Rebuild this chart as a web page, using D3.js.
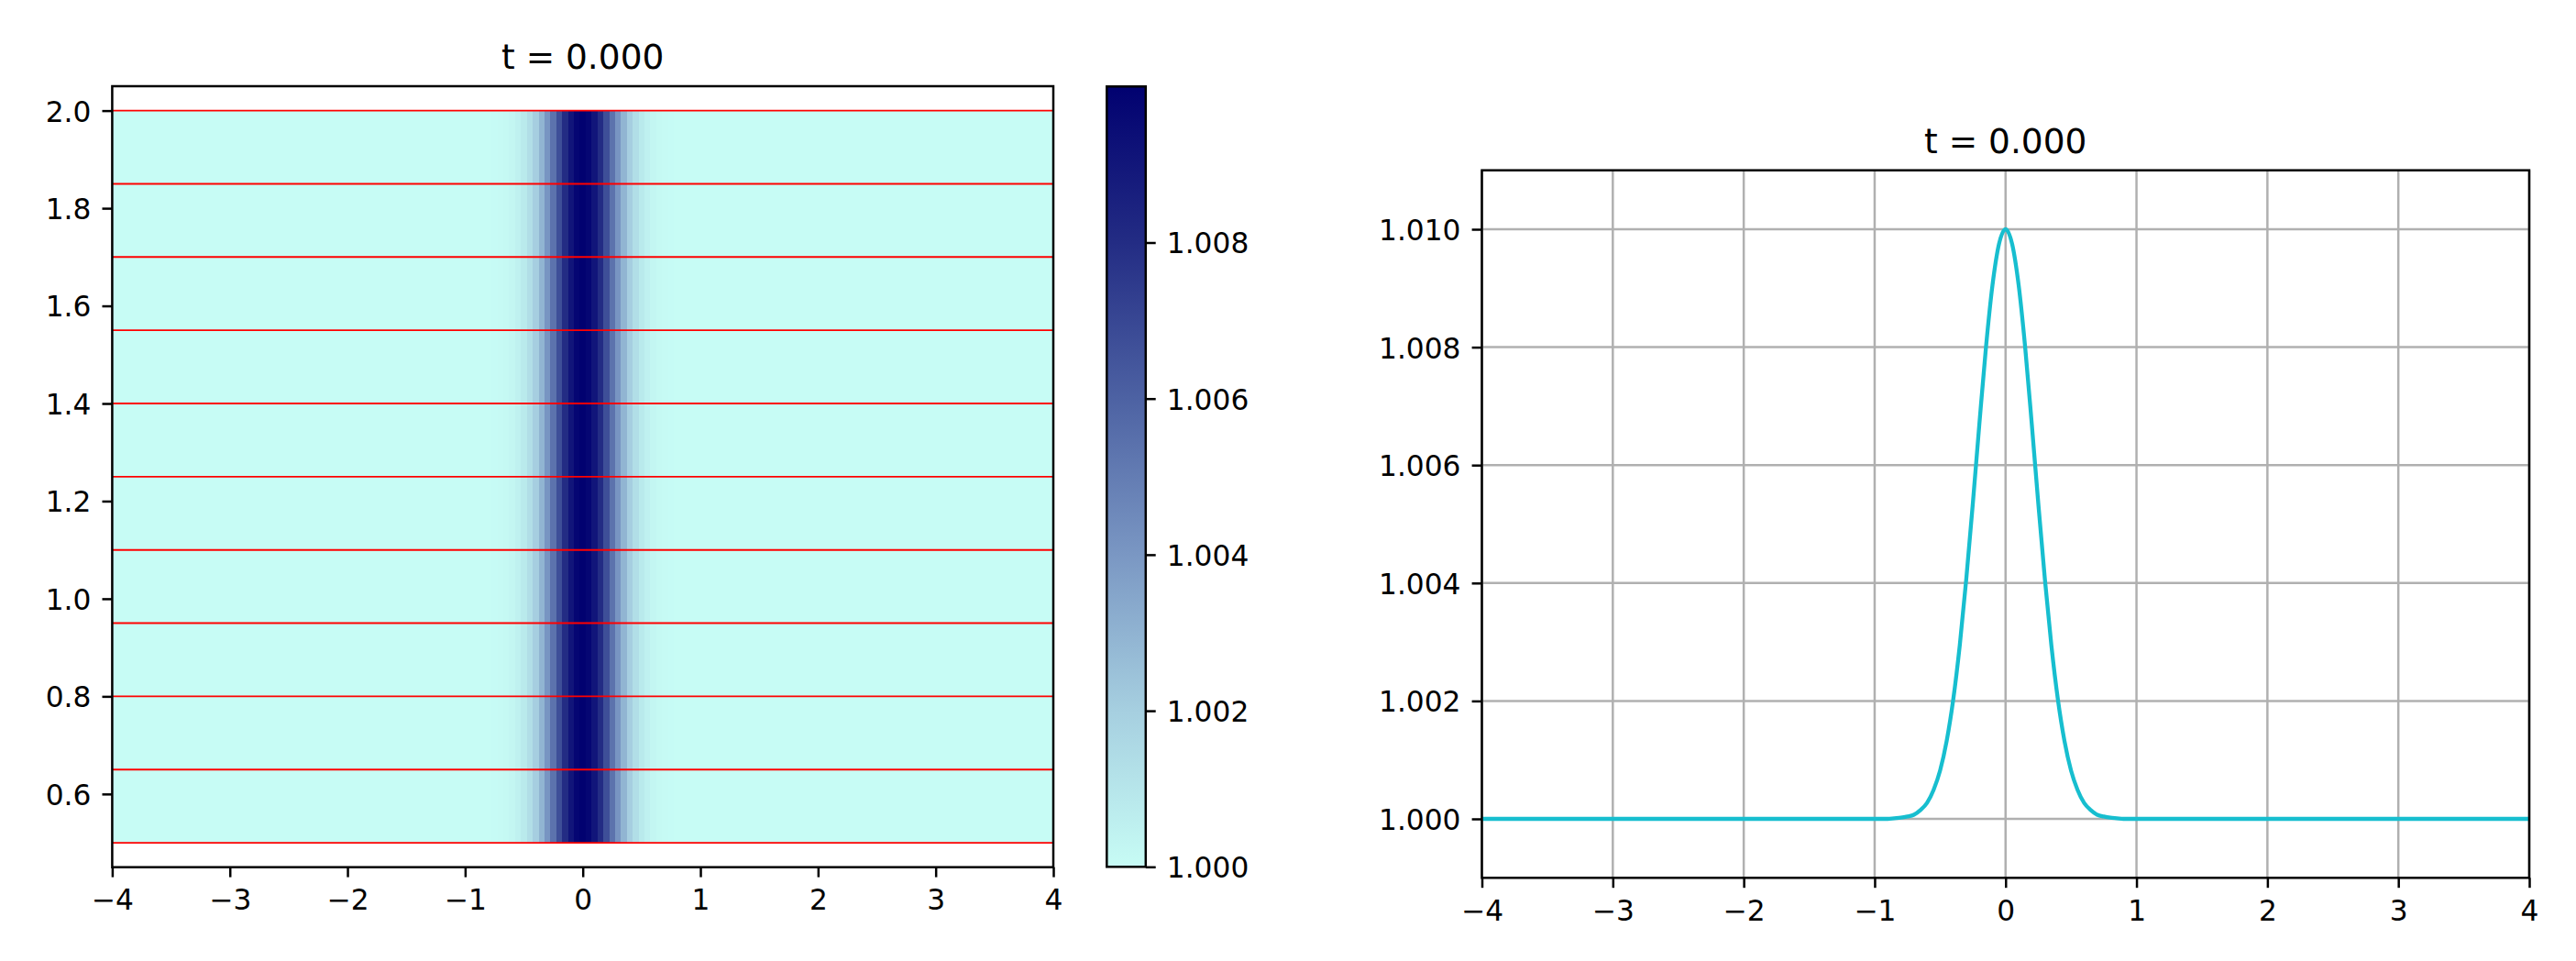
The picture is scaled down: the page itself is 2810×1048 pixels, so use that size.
<!DOCTYPE html>
<html><head><meta charset="utf-8">
<script src="https://cdn.jsdelivr.net/npm/d3@7"></script>
<style>
body{margin:0;background:#fff}
svg{display:block}
text{font-family:"DejaVu Sans",sans-serif;fill:#000}
</style>
</head><body>
<svg id="c" width="2810" height="1048"></svg>
<script>
// ---------------- data ----------------
const titles = ["t = 0.000", "t = 0.000"];
const xTicks = [-4, -3, -2, -1, 0, 1, 2, 3, 4];
const leftYTicks = [0.6, 0.8, 1.0, 1.2, 1.4, 1.6, 1.8, 2.0];
const rightYTicks = [1.000, 1.002, 1.004, 1.006, 1.008, 1.010];
const cbarTicks = [1.000, 1.002, 1.004, 1.006, 1.008];
const redLineYs = [0.5, 0.65, 0.8, 0.95, 1.1, 1.25, 1.4, 1.55, 1.7, 1.85, 2.0];
const heatYRange = [0.5, 2.0];
const profileX = [-4, -1.0, -0.95, -0.9, -0.85, -0.8, -0.75, -0.7, -0.65, -0.6, -0.55, -0.5,
  -0.45, -0.4, -0.35, -0.3, -0.25, -0.2, -0.15, -0.1, -0.05, 0,
  0.05, 0.1, 0.15, 0.2, 0.25, 0.3, 0.35, 0.4, 0.45, 0.5, 0.55, 0.6, 0.65, 0.7, 0.75,
  0.8, 0.85, 0.9, 0.95, 1.0, 4];
const profileU = [1.00000, 1.00000, 1.00000, 1.00000, 1.00001, 1.00002, 1.00004, 1.00007, 1.00015, 1.00027, 1.00049, 1.00082,
  1.00132, 1.00202, 1.00294, 1.00407, 1.00535, 1.00670, 1.00799, 1.00905, 1.00975, 1.01000,
  1.00975, 1.00905, 1.00799, 1.00670, 1.00535, 1.00407, 1.00294, 1.00202, 1.00132, 1.00082, 1.00049, 1.00027, 1.00015, 1.00007, 1.00004,
  1.00002, 1.00001, 1.00000, 1.00000, 1.00000, 1.00000];
const cmapStops = ["#c7fcf5", "#a6cfe0", "#7a97c3", "#4d62a3", "#232c84", "#010170"];
const cmapDomain = [1.000, 1.010];

// ---------------- layout ----------------
const FS = 31.25, TFS = 37.5, TICK = 10.9, LW = 2.5;
const L = {x0: 122.4, x1: 1149, y0: 94, y1: 945.7};
const CB = {x0: 1207.3, x1: 1249.8, y0: 94.3, y1: 945.3};
const R = {x0: 1616.5, x1: 2759, y0: 185.7, y1: 957.3};

const svg = d3.select("#c");
svg.append("rect").attr("width", 2810).attr("height", 1048).attr("fill", "#fff");

const cmap = d3.scaleLinear()
  .domain(cmapStops.map((_, i) => cmapDomain[0] + i * (cmapDomain[1] - cmapDomain[0]) / (cmapStops.length - 1)))
  .range(cmapStops).interpolate(d3.interpolateRgb).clamp(true);

const pts = profileX.map((x, i) => [x, profileU[i]]);

function styleAxis(g) {
  g.select(".domain").remove();
  g.selectAll(".tick line").attr("stroke", "#000").attr("stroke-width", LW);
  g.selectAll(".tick text").attr("font-size", FS).attr("fill", "#000")
    .attr("font-family", "DejaVu Sans, sans-serif");
}
function bottomAxis(g, scale, ticks, fmt) {
  g.call(d3.axisBottom(scale).tickValues(ticks).tickFormat(d3.format(fmt))
    .tickSize(TICK).tickSizeOuter(0).tickPadding(13.4));
  styleAxis(g);
}
function leftAxis(g, scale, ticks, fmt) {
  g.call(d3.axisLeft(scale).tickValues(ticks).tickFormat(d3.format(fmt))
    .tickSize(TICK).tickSizeOuter(0).tickPadding(12.1));
  styleAxis(g);
  g.selectAll(".tick text").attr("dy", "0.365em");
}

// ---------------- left: heatmap ----------------
const xL = d3.scaleLinear().domain([-4, 4]).range([L.x0, L.x1]);
const yL = d3.scaleLinear().domain([0.45, 2.05]).range([L.y1, L.y0]);

const cells = pts.map((p, i) => {
  const a = i === 0 ? -4 : (profileX[i - 1] + p[0]) / 2;
  const b = i === pts.length - 1 ? 4 : (p[0] + profileX[i + 1]) / 2;
  return {a, b, v: p[1]};
});
svg.append("g").selectAll("rect").data(cells).join("rect")
  .attr("x", d => xL(d.a)).attr("width", d => xL(d.b) - xL(d.a) + 0.6)
  .attr("y", yL(heatYRange[1])).attr("height", yL(heatYRange[0]) - yL(heatYRange[1]))
  .attr("fill", d => cmap(d.v)).attr("shape-rendering", "crispEdges");

svg.append("g").selectAll("line").data(redLineYs).join("line")
  .attr("x1", xL(-4)).attr("x2", xL(4))
  .attr("y1", d => yL(d)).attr("y2", d => yL(d))
  .attr("stroke", "#ff0000").attr("stroke-width", 1.9);

bottomAxis(svg.append("g").attr("transform", `translate(0,${L.y1})`), xL, xTicks, "d");
leftAxis(svg.append("g").attr("transform", `translate(${L.x0},0)`), yL, leftYTicks, ".1f");
svg.append("rect").attr("x", L.x0).attr("y", L.y0).attr("width", L.x1 - L.x0).attr("height", L.y1 - L.y0)
  .attr("fill", "none").attr("stroke", "#000").attr("stroke-width", LW);
svg.append("text").attr("x", (L.x0 + L.x1) / 2).attr("y", L.y0 - 19)
  .attr("text-anchor", "middle").attr("font-size", TFS).text(titles[0]);

// ---------------- colorbar ----------------
const defs = svg.append("defs");
const grad = defs.append("linearGradient").attr("id", "cbg")
  .attr("x1", 0).attr("y1", 1).attr("x2", 0).attr("y2", 0);
grad.selectAll("stop").data(cmapStops).join("stop")
  .attr("offset", (d, i) => i / (cmapStops.length - 1)).attr("stop-color", d => d);
const yCB = d3.scaleLinear().domain(cmapDomain).range([CB.y1, CB.y0]);
svg.append("rect").attr("x", CB.x0).attr("y", CB.y0).attr("width", CB.x1 - CB.x0).attr("height", CB.y1 - CB.y0)
  .attr("fill", "url(#cbg)");
const cbAx = svg.append("g").attr("transform", `translate(${CB.x1},0)`);
cbAx.call(d3.axisRight(yCB).tickValues(cbarTicks).tickFormat(d3.format(".3f"))
  .tickSize(TICK).tickSizeOuter(0).tickPadding(12.1));
styleAxis(cbAx);
cbAx.selectAll(".tick text").attr("dy", "0.365em");
svg.append("rect").attr("x", CB.x0).attr("y", CB.y0).attr("width", CB.x1 - CB.x0).attr("height", CB.y1 - CB.y0)
  .attr("fill", "none").attr("stroke", "#000").attr("stroke-width", LW);

// ---------------- right: line ----------------
const xR = d3.scaleLinear().domain([-4, 4]).range([R.x0, R.x1]);
const yR = d3.scaleLinear().domain([0.999, 1.011]).range([R.y1, R.y0]);
const grid = svg.append("g").attr("stroke", "#b0b0b0").attr("stroke-width", LW);
grid.selectAll("line.v").data(xTicks).join("line").attr("class", "v")
  .attr("x1", d => xR(d)).attr("x2", d => xR(d)).attr("y1", R.y0).attr("y2", R.y1);
grid.selectAll("line.h").data(rightYTicks).join("line").attr("class", "h")
  .attr("y1", d => yR(d)).attr("y2", d => yR(d)).attr("x1", R.x0).attr("x2", R.x1);

svg.append("path").datum(pts)
  .attr("d", d3.line().x(d => xR(d[0])).y(d => yR(d[1])).curve(d3.curveMonotoneX))
  .attr("fill", "none").attr("stroke", "#17becf").attr("stroke-width", 4.3)
  .attr("stroke-linejoin", "round").attr("stroke-linecap", "butt");

bottomAxis(svg.append("g").attr("transform", `translate(0,${R.y1})`), xR, xTicks, "d");
leftAxis(svg.append("g").attr("transform", `translate(${R.x0},0)`), yR, rightYTicks, ".3f");
svg.append("rect").attr("x", R.x0).attr("y", R.y0).attr("width", R.x1 - R.x0).attr("height", R.y1 - R.y0)
  .attr("fill", "none").attr("stroke", "#000").attr("stroke-width", LW);
svg.append("text").attr("x", (R.x0 + R.x1) / 2).attr("y", R.y0 - 19)
  .attr("text-anchor", "middle").attr("font-size", TFS).text(titles[1]);
</script>
</body></html>
